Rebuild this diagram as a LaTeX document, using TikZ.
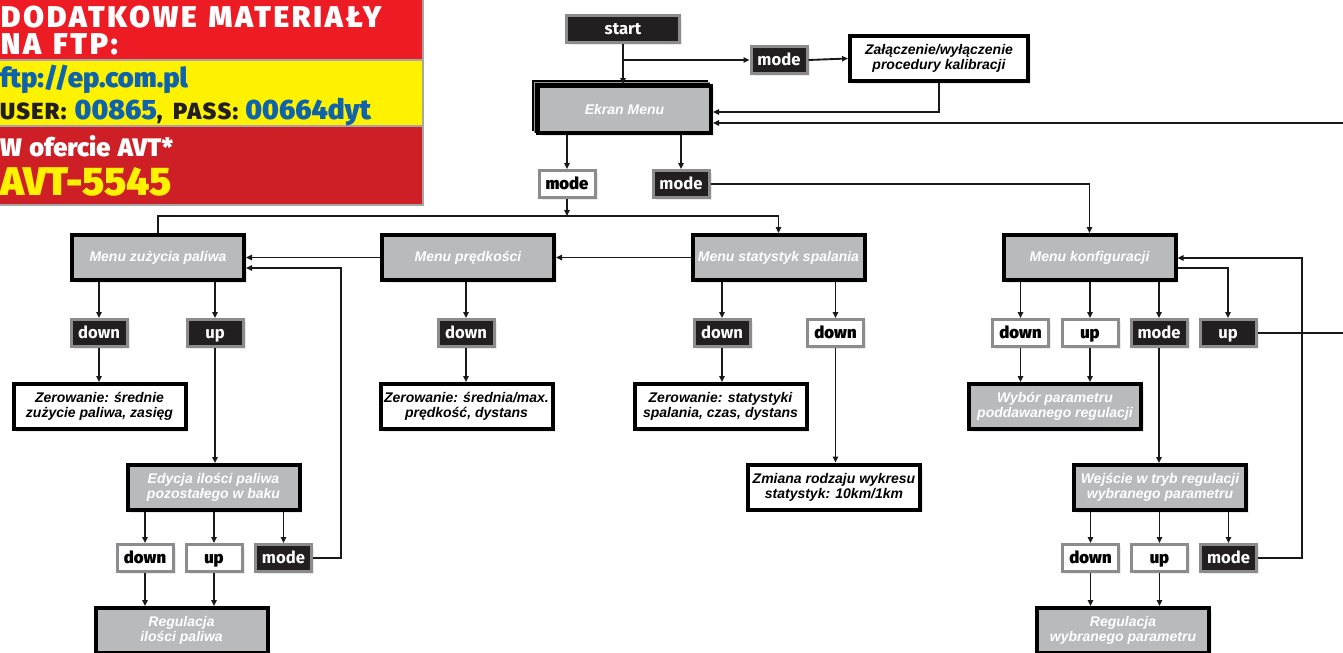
\documentclass[tikz,border=0pt]{standalone}
\usepackage{fontspec}
\setmainfont{Liberation Sans}
\usetikzlibrary{arrows.meta,calc,shadows}
\newfontfamily\boxfam{Liberation Sans}
\newfontfamily\fira{Fira Sans}
\IfFontExistsTF{Fira Sans Black}{%
  \newfontfamily\firaheavy{Fira Sans Black}%
  \newfontfamily\firaspaced{Fira Sans Black}[LetterSpace=9]%
  \newfontfamily\firauser{Fira Sans Black}[LetterSpace=6]}{%
  \newfontfamily\firaheavy{Fira Sans Bold}%
  \newfontfamily\firaspaced{Fira Sans Bold}[LetterSpace=9]%
  \newfontfamily\firauser{Fira Sans Bold}[LetterSpace=6]}
\newcommand\boxfont{\boxfam\bfseries\itshape\fontsize{10.5pt}{11.2pt}\selectfont}
\newcommand\btnfont{\fira\bfseries\fontsize{12.5pt}{14pt}\selectfont}
\newcommand\wbtnfont{\firaheavy\fontsize{12.5pt}{14pt}\selectfont}
\definecolor{boxgray}{HTML}{B9BABC}
\definecolor{btnblack}{HTML}{231F20}
\definecolor{btngray}{HTML}{8C8C8E}
\definecolor{bred}{HTML}{ED1C24}
\definecolor{byellow}{HTML}{FFF200}
\definecolor{bdark}{HTML}{CE1F26}
\definecolor{bblue}{HTML}{0F62AC}
\tikzset{
  shadowed/.style={drop shadow={shadow xshift=2.2pt,shadow yshift=-2.2pt,fill=black!16}},
  menubox/.style={draw=black,line width=3pt,fill=boxgray,minimum width=129pt,minimum height=33.75pt,
    inner sep=0pt,font=\boxfont,text=white,align=center,shadowed},
  infobox/.style={menubox,fill=white,text=black},
  btn/.style={draw=btngray,line width=2.25pt,fill=btnblack,text=white,font=\btnfont,
    minimum width=42pt,minimum height=20.25pt,inner sep=0pt,text height=9.5pt,text depth=2pt,shadowed},
  wbtn/.style={btn,fill=white,text=black,font=\wbtnfont},
  conn/.style={line width=1.4pt,draw=black!90,-{Triangle[length=4.5pt,width=4pt]}},
  banner/.style={anchor=base west,inner sep=0pt,outer sep=0pt}
}
\begin{document}
\begin{tikzpicture}[x=0.75pt,y=-0.75pt]
\useasboundingbox[fill=white] (0,0) rectangle (1343,653);
% banner
\fill[bred] (0,0) rectangle (423,60);
\fill[byellow] (0,60) rectangle (423,126);
\fill[bdark] (0,126) rectangle (423,205);
\draw[black!35,line width=0.9pt] (0,60) -- (423,60) (0,126) -- (423,126) (423,0) -- (423,205) -- (0,205);
\node[banner,text=white,font=\firaspaced\fontsize{22.5pt}{22pt}\selectfont] (b1) at (1,27) {DODATKOWE\hspace{0.4em}MATERIAŁY};
\node[banner,text=white,font=\firaspaced\fontsize{22.5pt}{22pt}\selectfont] (b2) at (1,55) {NA\hspace{0.4em}FTP:};
\node[banner,text=bblue,font=\firaheavy\fontsize{20.5pt}{22pt}\selectfont] (b3) at (0,87) {ftp://ep.com.pl};
\node[banner,text=btnblack,font=\firauser\fontsize{17.5pt}{20pt}\selectfont] (b4) at (0,119)
  {USER:\hspace{0.35em}{\firaheavy\color{bblue}\fontsize{21pt}{22pt}\selectfont 00865},\hspace{0.45em}PASS:\hspace{0.3em}{\firaheavy\color{bblue}\fontsize{21pt}{22pt}\selectfont 00664dyt}};
\node[banner,text=white,font=\firaheavy\fontsize{19pt}{22pt}\selectfont] (b5) at (0,156) {W\hspace{0.3em}ofercie\hspace{0.3em}AVT*};
\node[banner,text=byellow,font=\firaheavy\fontsize{30pt}{32pt}\selectfont] (b6) at (0,195) {AVT-5545};

% top part
\node[btn,minimum width=84.75pt] (start) at (623,29) {start};
\node[btn] (modeA) at (779,60) {mode};
\node[infobox,minimum width=133.5pt] (zal) at (939,58.5) {Załączenie/wyłączenie\\procedury kalibracji};
\fill[black] (532,80) rectangle (708,131);
\fill[black] (534,82) rectangle (710,133);
\draw[black!40,line width=0.4pt] (534,82) -- (710,82) (534,82) -- (534,133);
\node[menubox,minimum width=129.75pt,minimum height=35.25pt] (ekran) at (624.5,109.5) {Ekran Menu};
\node[wbtn] (modeW) at (567,184) {mode};
\node[btn] (modeB) at (681,184) {mode};

% menus
\node[menubox] (zuz) at (158,257.5) {Menu zużycia paliwa};
\node[menubox] (pred) at (468,257.5) {Menu prędkości};
\node[menubox] (stat) at (778.5,257.5) {Menu statystyk spalania};
\node[menubox] (konf) at (1089.5,257.5) {Menu konfiguracji};

% buttons row 1
\node[btn] (downZ) at (99,333) {down};
\node[btn] (upZ) at (215,333) {up};
\node[btn] (downP) at (466,333) {down};
\node[btn] (downS1) at (722,333) {down};
\node[wbtn] (downS2) at (835.5,333) {down};
\node[wbtn] (dK) at (1020.5,333) {down};
\node[wbtn] (uK) at (1090,333) {up};
\node[btn] (mK) at (1159,333) {mode};
\node[btn] (upK) at (1228,333) {up};

% result boxes
\node[infobox] (zer1) at (99.5,406.5) {Zerowanie: średnie\\zużycie paliwa, zasięg};
\node[infobox] (zer2) at (466.5,406.5) {Zerowanie: średnia/max.\\prędkość, dystans};
\node[infobox] (zer3) at (720.5,406.5) {Zerowanie: statystyki\\spalania, czas, dystans};
\node[menubox] (wyb) at (1055,406.5) {Wybór parametru\\poddawanego regulacji};
\node[menubox] (edy) at (213.5,487.5) {Edycja ilości paliwa\\pozostałego w baku};
\node[infobox] (zmi) at (834,487) {Zmiana rodzaju wykresu\\statystyk: 10km/1km};
\node[menubox] (wej) at (1160,487.5) {Wejście w tryb regulacji\\wybranego parametru};

% buttons row 2
\node[wbtn] (dE) at (145,558) {down};
\node[wbtn] (uE) at (214,558) {up};
\node[btn] (mE) at (283.5,558) {mode};
\node[wbtn] (dW) at (1090.5,558) {down};
\node[wbtn] (uW) at (1159.5,558) {up};
\node[btn] (mW) at (1228.5,558) {mode};

% bottom boxes
\node[menubox] (reg1) at (181.5,630.5) {Regulacja\\ilości paliwa};
\node[menubox] (regW) at (1123,630.5) {Regulacja\\wybranego parametru};

% connectors
\coordinate (j1) at (623,60);
\draw[conn] (start.south) -- (start.south |- ekran.north);
\draw[conn] (j1) -- (modeA.west);
\draw[conn] (modeA.east) -- (zal.west);
\draw[conn] (zal.south) |- ($(ekran.east)+(0,2.5)$);
\coordinate (edgeR) at (1348,123);
\draw[conn] (upK.east) -- (edgeR |- upK.east) -- (edgeR) -- ($(ekran.east)+(0,13.5)$);
\draw[conn] (modeW |- ekran.south) -- (modeW.north);
\draw[conn] (modeB |- ekran.south) -- (modeB.north);
\draw[conn] (modeB.east) -| (konf.north);
\coordinate (hb) at (567,216);
\draw[conn] (modeW.south) -- (hb);
\draw[conn] (zuz.north) |- (stat.north |- hb) -- (stat.north);
\draw[conn] (stat.west) -- (pred.east);
\draw[conn] (pred.west) -- (zuz.east);
% zuzycia branch
\draw[conn] (downZ |- zuz.south) -- (downZ.north);
\draw[conn] (upZ |- zuz.south) -- (upZ.north);
\draw[conn] (downZ.south) -- (downZ.south |- zer1.north);
\draw[conn] (upZ.south) -- (upZ.south |- edy.north);
\draw[conn] (dE |- edy.south) -- (dE.north);
\draw[conn] (uE |- edy.south) -- (uE.north);
\draw[conn] (mE |- edy.south) -- (mE.north);
\coordinate (rz) at (341,268);
\draw[conn] (mE.east) -| (rz) -- (zuz.east |- rz);
\draw[conn] (dE.south) -- (dE.south |- reg1.north);
\draw[conn] (uE.south) -- (uE.south |- reg1.north);
% predkosci
\draw[conn] (downP |- pred.south) -- (downP.north);
\draw[conn] (downP.south) -- (downP.south |- zer2.north);
% statystyki
\draw[conn] (downS1 |- stat.south) -- (downS1.north);
\draw[conn] (downS2 |- stat.south) -- (downS2.north);
\draw[conn] (downS1.south) -- (downS1.south |- zer3.north);
\draw[conn] (downS2.south) -- (downS2.south |- zmi.north);
% konfiguracja
\draw[conn] (dK |- konf.south) -- (dK.north);
\draw[conn] (uK |- konf.south) -- (uK.north);
\draw[conn] (mK |- konf.south) -- (mK.north);
\draw[conn] ($(konf.east)+(0,10.5)$) -| (upK.north);
\draw[conn] (dK.south) -- (dK.south |- wyb.north);
\draw[conn] (uK.south) -- (uK.south |- wyb.north);
\draw[conn] (mK.south) -- (mK.south |- wej.north);
\draw[conn] (dW |- wej.south) -- (dW.north);
\draw[conn] (uW |- wej.south) -- (uW.north);
\draw[conn] (mW |- wej.south) -- (mW.north);
\coordinate (rk) at (1302,258);
\draw[conn] (mW.east) -| (rk) -- (konf.east |- rk);
\draw[conn] (dW.south) -- (dW.south |- regW.north);
\draw[conn] (uW.south) -- (uW.south |- regW.north);
\end{tikzpicture}
\end{document}
